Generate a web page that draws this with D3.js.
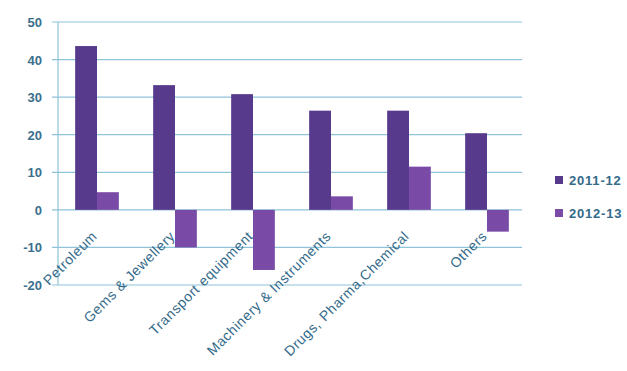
<!doctype html>
<html lang="en">
  <head>
    <meta charset="utf-8">
    <title>Export growth</title>
    <style type="text/css">
    body { margin: 0; background-color: #ffffff; }
    text { font-family: "Liberation Sans", Arial, sans-serif; }
    </style>
  </head>
  <body>
  <script src="https://cdn.jsdelivr.net/npm/d3@7/dist/d3.min.js"></script>
  <script>

  // data
  var categories = ["Petroleum", "Gems & Jewellery", "Transport equipment",
    "Machinery & Instruments", "Drugs, Pharma,Chemical", "Others"];
  var series = ["2011-12", "2012-13"];
  var values2011 = [43.6, 33.2, 30.8, 26.4, 26.4, 20.4];
  var values2012 = [4.7, -10, -16, 3.6, 11.5, -5.8];
  var yTicks = [-20, -10, 0, 10, 20, 30, 40, 50];
  var colors = ["#573a8c", "#7a4ba6"];

  var w = 627, h = 371;
  var svg = d3.select("body").append("svg")
    .attr("width", w)
    .attr("height", h);

  var x0 = d3.scaleBand()
    .domain(categories)
    .range([58, 526])
    .paddingInner(0.44)
    .paddingOuter(0.22);

  var x1 = d3.scaleBand()
    .domain(series)
    .range([0, x0.bandwidth()]);

  var y = d3.scaleLinear()
    .domain([-20, 50])
    .range([285, 22]);

  // gridlines
  svg.append("g").selectAll("line")
    .data(yTicks)
    .enter().append("line")
    .attr("x1", 52).attr("x2", 522)
    .attr("y1", function(d) { return y(d); })
    .attr("y2", function(d) { return y(d); })
    .style("stroke", "#8fc3da")
    .style("stroke-width", 1.2);

  // vertical axis line
  svg.append("line")
    .attr("x1", 58).attr("x2", 58)
    .attr("y1", y(50)).attr("y2", y(-20))
    .style("stroke", "#8fc3da")
    .style("stroke-width", 1.2);

  // y labels
  svg.append("g").selectAll("text")
    .data(yTicks)
    .enter().append("text")
    .attr("x", 42)
    .attr("y", function(d) { return y(d) + 5; })
    .attr("text-anchor", "end")
    .style("font-size", "13px")
    .style("font-weight", "bold")
    .style("fill", "#3a6f8e")
    .text(function(d) { return d; });

  // bars
  var rows = categories.map(function(c, i) {
    return [{ c: c, s: series[0], v: values2011[i] }, { c: c, s: series[1], v: values2012[i] }];
  });

  var groups = svg.append("g").selectAll("g")
    .data(rows)
    .enter().append("g")
    .attr("transform", function(d) { return "translate(" + x0(d[0].c) + ",0)"; });

  groups.selectAll("rect")
    .data(function(d) { return d; })
    .enter().append("rect")
    .attr("x", function(d) { return x1(d.s); })
    .attr("width", x1.bandwidth())
    .attr("y", function(d) { return y(Math.max(0, d.v)); })
    .attr("height", function(d) { return Math.abs(y(d.v) - y(0)); })
    .style("fill", function(d, i) { return colors[i]; });

  // category labels, rotated
  svg.append("g").selectAll("text")
    .data(categories)
    .enter().append("text")
    .attr("transform", function(d) {
      return "translate(" + (x0(d) + x0.bandwidth() / 2 + 1) + ",237) rotate(-45)";
    })
    .attr("text-anchor", "end")
    .style("font-size", "14px")
    .style("letter-spacing", "0.6px")
    .style("fill", "#336a8a")
    .text(function(d) { return d; });

  // legend
  var legend = svg.append("g").selectAll("g")
    .data(series)
    .enter().append("g")
    .attr("transform", function(d, i) { return "translate(555," + (176 + i * 33) + ")"; });

  legend.append("rect")
    .attr("width", 8).attr("height", 8)
    .style("fill", function(d, i) { return colors[i]; });

  legend.append("text")
    .attr("x", 14).attr("y", 9)
    .style("font-size", "13px")
    .style("font-weight", "bold")
    .style("letter-spacing", "0.8px")
    .style("fill", "#336a8a")
    .text(function(d) { return d; });

  </script>
  </body>
</html>
